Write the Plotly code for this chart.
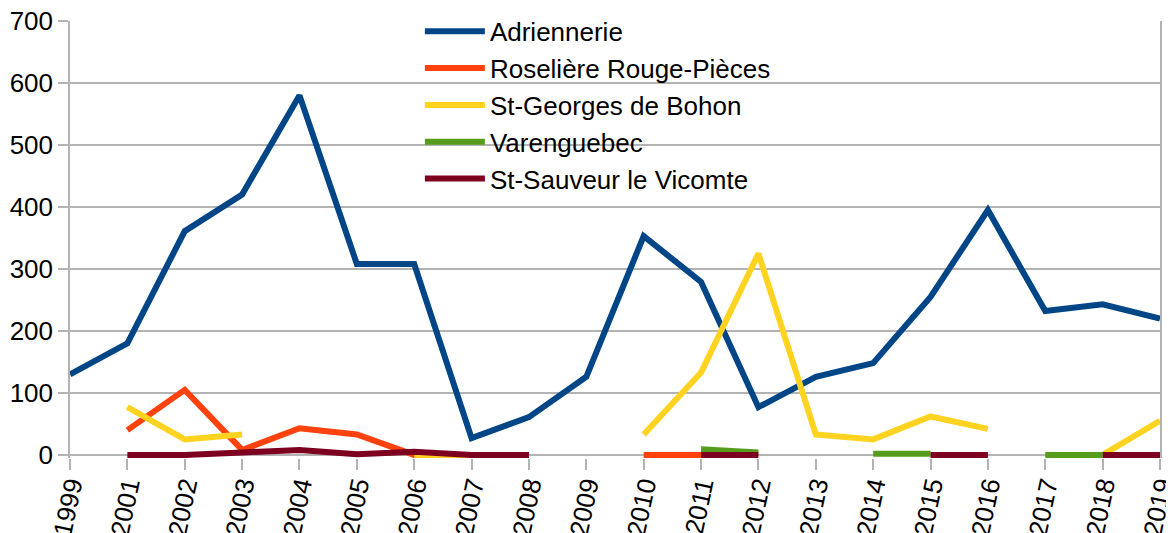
import plotly.graph_objects as go

years = ["1999", "2001", "2002", "2003", "2004", "2005", "2006", "2007", "2008", "2009",
         "2010", "2011", "2012", "2013", "2014", "2015", "2016", "2017", "2018", "2019"]

adriennerie = [130, 180, 361, 420, 580, 308, 308, 27, 61, 126,
               353, 279, 77, 126, 148, 255, 395, 232, 243, 220]
roseliere = [None, 40, 105, 8, 43, 33, 0, 0, 0, None,
             0, 0, None, None, None, None, None, None, None, None]
st_georges = [None, 77, 25, 33, None, None, 0, 0, None, None,
              33, 133, 325, 33, 25, 62, 42, None, 0, 55]
varenguebec = [None, None, None, None, None, None, None, None, None, None,
               None, 9, 4, None, 2, 2, None, 0, 0, None]
st_sauveur = [None, 0, 0, 4, 8, 1, 5, 0, 0, None,
              None, 0, 0, None, None, 0, 0, None, 0, 0]

series = [
    ("Adriennerie", adriennerie, "#004586"),
    ("Roselière Rouge-Pièces", roseliere, "#ff420e"),
    ("St-Georges de Bohon", st_georges, "#ffd320"),
    ("Varenguebec", varenguebec, "#579d1c"),
    ("St-Sauveur le Vicomte", st_sauveur, "#7e0021"),
]

fig = go.Figure()
for name, vals, color in series:
    fig.add_trace(go.Scatter(
        x=years, y=vals, name=name, mode="lines",
        line=dict(color=color, width=6),
        connectgaps=False,
    ))

font = "Liberation Sans, Arial, sans-serif"
fig.update_layout(
    width=1166, height=525,
    margin=dict(l=62, r=14, t=13, b=75, autoexpand=False),
    paper_bgcolor="white", plot_bgcolor="white",
    font=dict(family=font, size=26, color="black"),
    showlegend=True,
    legend=dict(
        x=0.321, y=1.03, xanchor="left", yanchor="top",
        bgcolor="rgba(0,0,0,0)", font=dict(size=26, family=font),
        itemwidth=60, tracegroupgap=0,
    ),
    xaxis=dict(
        type="category", categoryorder="array", categoryarray=years,
        range=[0, 19], tickangle=-78, automargin=False,
        showgrid=False, showline=False,
        ticks="outside", ticklen=11, tickcolor="#b3b3b3", tickwidth=1.5,
        tickfont=dict(size=26, family=font),
        ticklabelstandoff=-10, ticklabeloverflow="allow",
    ),
    yaxis=dict(
        range=[-5, 700], tickvals=[0, 100, 200, 300, 400, 500, 600, 700],
        showgrid=True, gridcolor="#b3b3b3", gridwidth=1.5, automargin=False,
        showline=True, linecolor="#b3b3b3", linewidth=1.5, mirror=True,
        ticks="outside", ticklen=10, tickcolor="#b3b3b3", tickwidth=1.5,
        tickfont=dict(size=26, family=font), zeroline=False,
        ticklabeloverflow="allow",
    ),
)

fig.write_html("out.html")
